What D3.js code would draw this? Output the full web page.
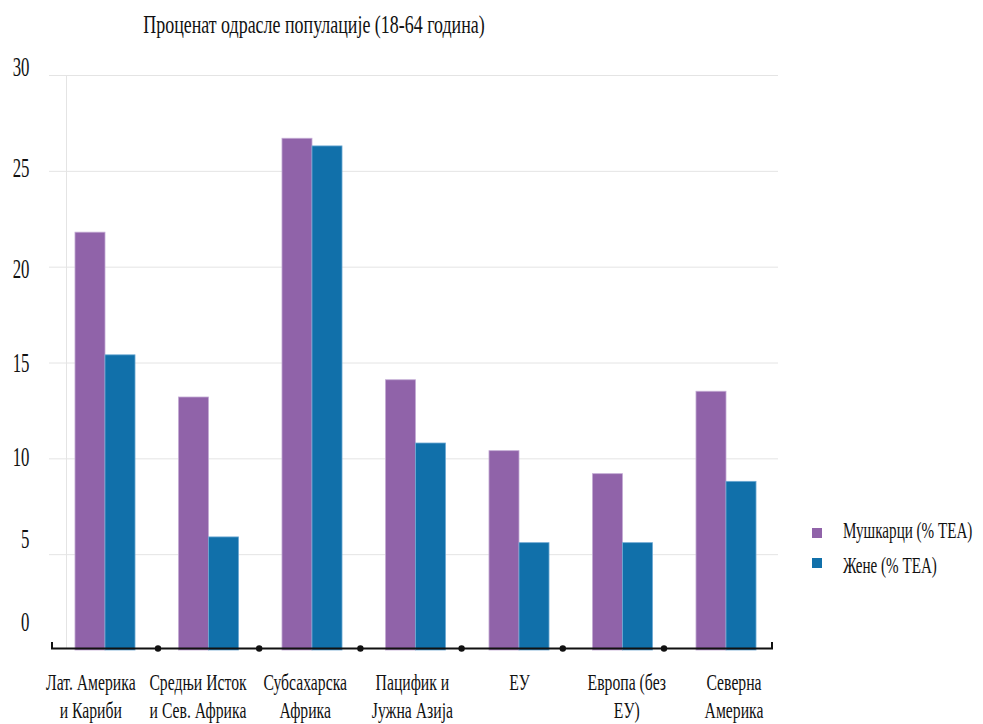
<!DOCTYPE html>
<html>
<head>
<meta charset="utf-8">
<script src="https://cdn.jsdelivr.net/npm/d3@7"></script>
<style>
  html, body { margin: 0; padding: 0; background: #ffffff; }
  svg { display: block; }
  text { font-family: "Liberation Serif", "Times New Roman", serif; fill: #111; }
</style>
</head>
<body>
<svg id="chart" width="983" height="724"></svg>
<script>
// ---- data ----
const categories = [
  ["Лат. Америка", "и Кариби"],
  ["Средњи Исток", "и Сев. Африка"],
  ["Субсахарска", "Африка"],
  ["Пацифик и", "Јужна Азија"],
  ["ЕУ"],
  ["Европа (без", "ЕУ)"],
  ["Северна", "Америка"]
];
const men   = [21.8, 13.2, 26.7, 14.1, 10.4, 9.2, 13.5];
const women = [15.4, 5.9, 26.3, 10.8, 5.6, 5.6, 8.8];
const yTicks = [0, 5, 10, 15, 20, 25, 30];
const seriesNames = ["Мушкарци (% TEA)", "Жене (% TEA)"];
const titleText = "Проценат одрасле популације (18-64 година)";

// ---- setup ----
const svg = d3.select("#chart");
const colors = ["#9063a9", "#1170aa"];
const strokeColors = ["#c4abd4", "#6ea9d3"];

const idx = d3.range(categories.length);
const x = d3.scaleBand().domain(idx).range([53.25, 777.75]).paddingInner(0.42).paddingOuter(0.21);
const xSub = d3.scaleBand().domain([0, 1]).range([0, x.bandwidth()]);
const y = d3.scaleLinear().domain([0, 30]).range([650, 75]);
const yLabel = d3.scaleLinear().domain([0, 5, 10, 20, 30]).range([621, 538, 456, 268, 66]);
const xLabel = d3.scalePoint().domain(idx).range([90.8, 734]);
const sep = d3.scaleLinear().domain([1, 6]).range([158, 664]);

function condText(sel, tx, ty, anchor, size, sx) {
  return sel.append("text")
    .attr("transform", `translate(${tx},${ty}) scale(${sx},1)`)
    .attr("text-anchor", anchor)
    .style("font-size", size + "px");
}

// title
condText(svg, 314, 33, "middle", 26, 0.69).text(titleText);

// gridlines
svg.append("g").selectAll("line").data(yTicks.filter(d => d > 0)).join("line")
  .attr("x1", 49).attr("x2", 778)
  .attr("y1", d => y(d) + 0.5).attr("y2", d => y(d) + 0.5)
  .attr("stroke", "#e4e4e4").attr("stroke-width", 1);
// light vertical line
svg.append("line").attr("x1", 66.5).attr("x2", 66.5).attr("y1", y(30)).attr("y2", 648)
  .attr("stroke", "#e4e4e4").attr("stroke-width", 1);

// y labels
const yl = svg.append("g");
yTicks.forEach(t => {
  condText(yl, 29.5, yLabel(t), "end", 28, 0.6).attr("dy", "0.35em").text(t);
});

// bars
const series = [men, women];
const gBars = svg.append("g");
series.forEach((vals, s) => {
  gBars.append("g").selectAll("rect").data(vals).join("rect")
    .attr("x", (d, i) => x(i) + xSub(s))
    .attr("y", d => y(d))
    .attr("width", xSub.bandwidth())
    .attr("height", d => y(0) - y(d))
    .attr("fill", colors[s])
    .attr("stroke", strokeColors[s])
    .attr("stroke-width", 0.8);
});

// x axis baseline with end ticks
svg.append("path")
  .attr("d", `M52,642 L52,648.5 L772,648.5 L772,642`)
  .attr("fill", "none").attr("stroke", "#111").attr("stroke-width", 2);
// separator dots
svg.append("g").selectAll("circle").data(d3.range(1, 7)).join("circle")
  .attr("cx", d => sep(d)).attr("cy", 648.5).attr("r", 3.2).attr("fill", "#111");

// x labels
const xl = svg.append("g");
categories.forEach((lines, i) => {
  lines.forEach((ln, j) => {
    condText(xl, xLabel(i), 690 + j * 28, "middle", 24, 0.655).text(ln);
  });
});

// legend
const lg = svg.append("g");
seriesNames.forEach((name, s) => {
  lg.append("rect").attr("x", 812).attr("y", 528 + s * 30).attr("width", 10).attr("height", 10)
    .attr("fill", colors[s]);
  condText(lg, 843, 538 + s * 35, "start", 24, 0.63).text(name);
});
</script>
</body>
</html>
